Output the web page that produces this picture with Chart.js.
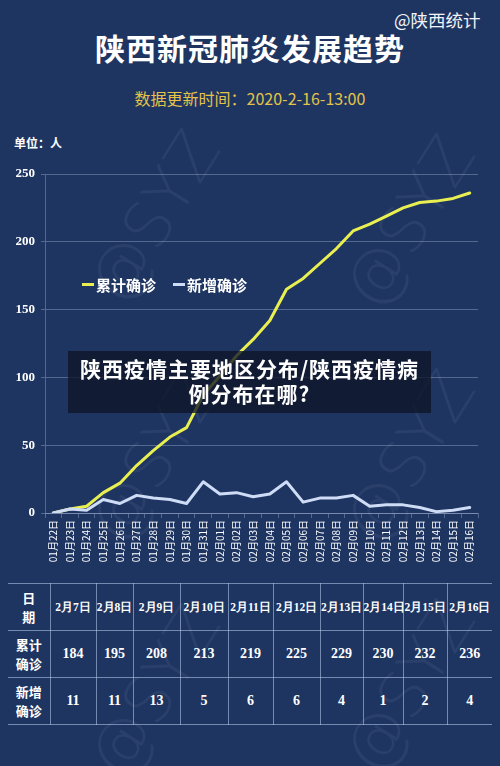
<!DOCTYPE html>
<html>
<head>
<meta charset="utf-8">
<script src="https://cdn.jsdelivr.net/npm/chart.js@4.4.1/dist/chart.umd.min.js"></script>
<style>
  html, body { margin:0; padding:0; }
  body { width:500px; height:766px; background:#1e3562; position:relative; overflow:hidden;
         font-family:"Noto Sans CJK SC","Noto Sans",sans-serif; color:#fff; }
  .abs { position:absolute; }
  #title { left:0; width:500px; top:26px; text-align:center; font-size:30px; font-weight:bold; line-height:42px; letter-spacing:1px; }
  #account { left:394px; top:7px; font-size:17.5px; line-height:26px; color:#f2f4f8; }
  #sub { left:0; width:500px; top:86px; text-align:center; font-size:16px; line-height:24px; color:#e4c348; }
  #unit { left:14px; top:134px; font-size:12px; font-weight:bold; line-height:18px; }
  #chartBox { left:0; top:160px; width:500px; height:410px; }
  .leg { top:275px; font-size:15px; font-weight:bold; line-height:20px; }
  .leg i { display:inline-block; width:12px; height:3px; margin-right:2px; vertical-align:middle; position:relative; top:-2px; }
  #banner { left:68px; top:351px; width:363px; height:62px; background:rgba(14,20,38,0.78); }
  #bannerText { left:68px; top:356px; width:363px; text-align:center; font-size:21px; font-weight:bold; line-height:25px; letter-spacing:1px; }
  #tbl { left:8px; top:583px; border-collapse:collapse; table-layout:fixed; width:484px; }
  #tbl td { border:1px solid rgba(190,208,240,0.55); height:46px; text-align:center; vertical-align:middle; padding:0;
            font-family:"Liberation Serif","DejaVu Serif",serif; font-weight:bold; color:#fff; }
  #tbl tr td:first-child { border-left:none; font-family:"Noto Sans CJK SC",sans-serif; font-size:13px; line-height:19px; }
  #tbl tr td:last-child { border-right:none; }
  #tbl .hd { font-size:11.5px; white-space:nowrap; }
  #tbl .val { font-size:14px; }
  .wm { font-size:64px; color:rgba(255,255,255,0.055); transform:rotate(-58deg); font-family:"DejaVu Sans",sans-serif; font-weight:300; white-space:nowrap; }
</style>
</head>
<body>
<div id="title" class="abs">陕西新冠肺炎发展趋势</div>
<div id="account" class="abs">@陕西统计</div>
<div id="sub" class="abs">数据更新时间：2020-2-16-13:00</div>
<div id="unit" class="abs">单位：人</div>

<div class="abs wm" style="left:60px;top:180px;">@SYZ</div>
<div class="abs wm" style="left:315px;top:185px;">@SYZ</div>
<div class="abs wm" style="left:60px;top:420px;">@SYZ</div>
<div class="abs wm" style="left:315px;top:420px;">@SYZ</div>
<div class="abs wm" style="left:60px;top:655px;">@SYZ</div>
<div class="abs wm" style="left:315px;top:650px;">@SYZ</div>

<div id="chartBox" class="abs"><canvas id="c" width="500" height="410"></canvas></div>

<div class="abs leg" style="left:82px;"><i style="background:#e9ef50"></i>累计确诊</div>
<div class="abs leg" style="left:173px;"><i style="background:#cfdcf5"></i>新增确诊</div>

<div id="banner" class="abs"></div>
<div id="bannerText" class="abs">陕西疫情主要地区分布/陕西疫情病<br>例分布在哪?</div>

<table id="tbl" class="abs">
  <colgroup id="cols"></colgroup>
  <tbody>
    <tr id="rowDate"><td>日<br>期</td></tr>
    <tr id="rowTotal"><td>累计<br>确诊</td></tr>
    <tr id="rowNew"><td>新增<br>确诊</td></tr>
  </tbody>
</table>

<script>
// ---- data ----
const dateLabels = ["01月22日","01月23日","01月24日","01月25日","01月26日","01月27日","01月28日","01月29日","01月30日","01月31日",
  "02月01日","02月02日","02月03日","02月04日","02月05日","02月06日","02月07日","02月08日","02月09日","02月10日",
  "02月11日","02月12日","02月13日","02月14日","02月15日","02月16日"];
const cumulative = [0,3,5,15,22,35,46,56,63,87,101,116,128,142,165,173,184,195,208,213,219,225,229,230,232,236];
const daily = [0,3,2,10,7,13,11,10,7,23,14,15,12,14,23,8,11,11,13,5,6,6,4,1,2,4];
const tableDates = ["2月7日","2月8日","2月9日","2月10日","2月11日","2月12日","2月13日","2月14日","2月15日","2月16日"];
const tableTotal = cumulative.slice(-10);
const tableNew = daily.slice(-10);
const yTicks = [0,50,100,150,200,250];

// ---- table ----
const colW = [42,46,37,47,48,45,47,43,40,44,45];
const cg = document.getElementById('cols');
colW.forEach(w => { const c = document.createElement('col'); c.style.width = w + 'px'; cg.appendChild(c); });
function addCells(rowId, arr, cls) {
  const r = document.getElementById(rowId);
  arr.forEach(v => { const td = document.createElement('td'); td.className = cls; td.textContent = v; r.appendChild(td); });
}
addCells('rowDate', tableDates, 'hd');
addCells('rowTotal', tableTotal, 'val');
addCells('rowNew', tableNew, 'val');

// ---- chart ----
const gridCol = 'rgba(200,215,240,0.32)';
new Chart(document.getElementById('c'), {
  type: 'line',
  data: {
    labels: dateLabels,
    datasets: [
      { label: '新增确诊', data: daily, borderColor: '#cfdcf5', borderWidth: 3, pointRadius: 0, tension: 0, order: 0,
        borderJoinStyle: 'round', borderCapStyle: 'round' },
      { label: '累计确诊', data: cumulative, borderColor: '#e9ef50', borderWidth: 3, pointRadius: 0, tension: 0, order: 1,
        borderJoinStyle: 'round', borderCapStyle: 'round' }
    ]
  },
  options: {
    responsive: false,
    animation: false,
    layout: { padding: { top: 14, right: 22, left: 0, bottom: 0 } },
    plugins: { legend: { display: false }, tooltip: { enabled: false } },
    scales: {
      x: {
        offset: true,
        afterFit: s => { s.height = 57; },
        grid: { display: true, drawOnChartArea: false, offset: true, color: gridCol, tickLength: 5 },
        border: { color: gridCol },
        ticks: { color: '#ffffff', minRotation: 90, maxRotation: 90, autoSkip: false, padding: 2,
                 font: { family: '"Noto Sans CJK SC", sans-serif', size: 10 } }
      },
      y: {
        min: 0, max: 250,
        afterFit: s => { s.width = 45; },
        afterBuildTicks: s => { s.ticks = yTicks.map(v => ({ value: v })); },
        grid: { color: gridCol, tickLength: 4 },
        border: { color: gridCol },
        ticks: { color: '#ffffff', padding: 6, font: { family: '"Liberation Serif", serif', size: 13, weight: 'bold' } }
      }
    }
  }
});
</script>
</body>
</html>
